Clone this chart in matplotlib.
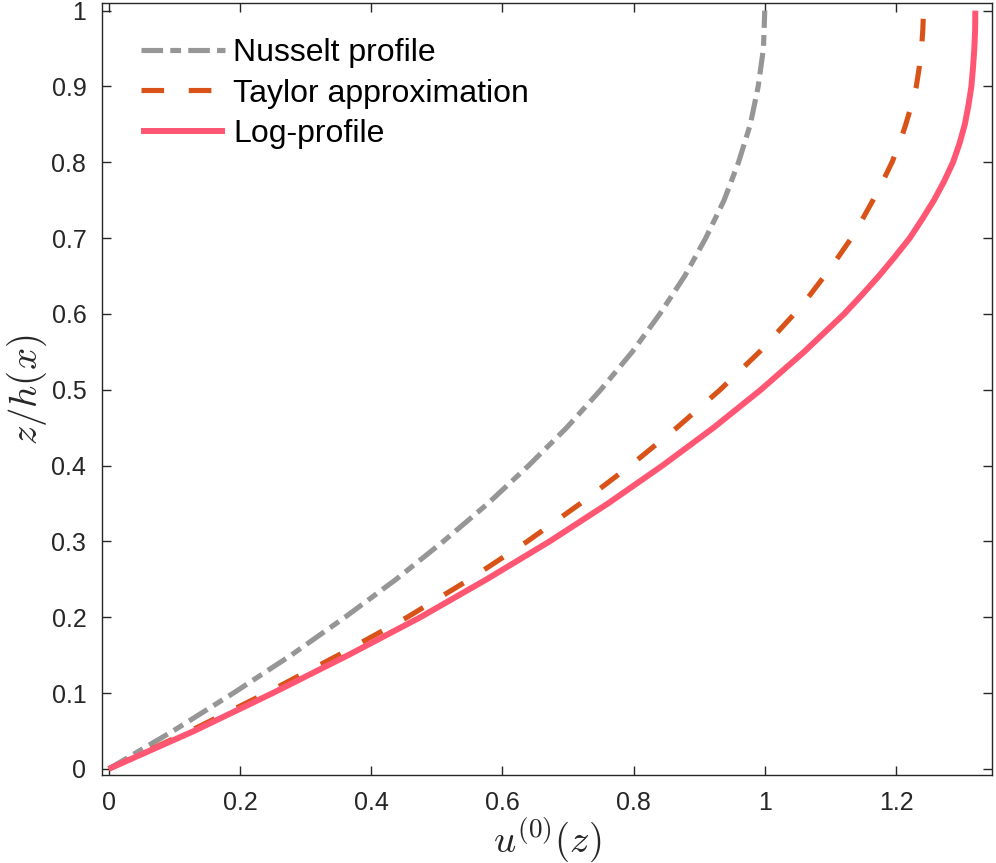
import numpy as np
import matplotlib
matplotlib.use('Agg')
import matplotlib.pyplot as plt

plt.rcParams['font.family'] = ['Liberation Sans', 'DejaVu Sans']
plt.rcParams['mathtext.fontset'] = 'cm'

# values (u at each height z/h)
z_vals = [0.0, 0.05, 0.1, 0.15, 0.2, 0.25, 0.3, 0.35, 0.4, 0.45, 0.5, 0.55, 0.6,
          0.625, 0.65, 0.675, 0.7, 0.725, 0.75, 0.775, 0.8, 0.825, 0.85,
          0.875, 0.9, 0.925, 0.95, 0.975, 1.0]
u_nusselt = [0.0, 0.098, 0.19, 0.278, 0.36, 0.438, 0.51, 0.578, 0.64, 0.698, 0.75, 0.798, 0.84,
             0.859, 0.878, 0.894, 0.91, 0.924, 0.938, 0.949, 0.96, 0.969, 0.978,
             0.984, 0.99, 0.994, 0.998, 0.999, 1.0]
u_taylor = [0.0, 0.124, 0.24, 0.35, 0.455, 0.55, 0.638, 0.719, 0.795, 0.866, 0.932, 0.992, 1.045,
            1.069, 1.091, 1.112, 1.132, 1.149, 1.165, 1.180, 1.194, 1.2055, 1.215,
            1.2235, 1.231, 1.2355, 1.239, 1.241, 1.242]
u_log = [0.0, 0.13, 0.25, 0.365, 0.475, 0.576, 0.672, 0.761, 0.844, 0.922, 0.994, 1.06, 1.121,
         1.148, 1.174, 1.198, 1.221, 1.240, 1.258, 1.2735, 1.287, 1.297, 1.305,
         1.3105, 1.315, 1.3175, 1.3195, 1.3207, 1.321]

labels = ['Nusselt profile', 'Taylor approximation', 'Log-profile']

x_ticks = [0, 0.2, 0.4, 0.6, 0.8, 1.0, 1.2]
x_ticklabels = ['0', '0.2', '0.4', '0.6', '0.8', '1', '1.2']
y_ticks = [0, 0.1, 0.2, 0.3, 0.4, 0.5, 0.6, 0.7, 0.8, 0.9, 1.0]
y_ticklabels = ['0', '0.1', '0.2', '0.3', '0.4', '0.5', '0.6', '0.7', '0.8', '0.9', '1']

fig = plt.figure(figsize=(9.96, 8.63), dpi=100)
ax = fig.add_axes([0.102, 0.1016, 0.8937, 0.8946])

ax.plot(u_nusselt, z_vals, color='#969696', lw=3.7,
        linestyle=(0, (4.2, 1.4, 2.1, 1.4)), dash_capstyle='butt', label=labels[0])
ax.plot(u_taylor, z_vals, color='#D95319', lw=3.7,
        linestyle=(0, (4.4, 4.8)), dash_capstyle='butt', label=labels[1])
ax.plot(u_log, z_vals, color='#FF5773', lw=4.3, solid_capstyle='butt', label=labels[2])

ax.set_xlim(-0.011, 1.346)
ax.set_ylim(-0.0085, 1.0097)
ax.set_xticks(x_ticks)
ax.set_xticklabels(x_ticklabels)
ax.set_yticks(y_ticks)
ax.set_yticklabels(y_ticklabels)

dark = '#262626'
for s in ax.spines.values():
    s.set_color(dark)
    s.set_linewidth(1.0)
ax.tick_params(direction='in', length=6.5, width=1.0, colors=dark,
               labelsize=18, pad=11, top=True, right=True)

ax.set_xlabel(r'$u^{(0)}(z)$', fontsize=28, color=dark, labelpad=0)
ax.set_ylabel(r'$z/h(x)$', fontsize=28, color=dark, labelpad=2)

leg = ax.legend(loc='upper left', bbox_to_anchor=(0.044, 0.955), frameon=False,
                fontsize=23, handlelength=2.65, handletextpad=0.25,
                labelspacing=0.33, borderpad=0, borderaxespad=0)

fig.savefig('out.png', dpi=100)
